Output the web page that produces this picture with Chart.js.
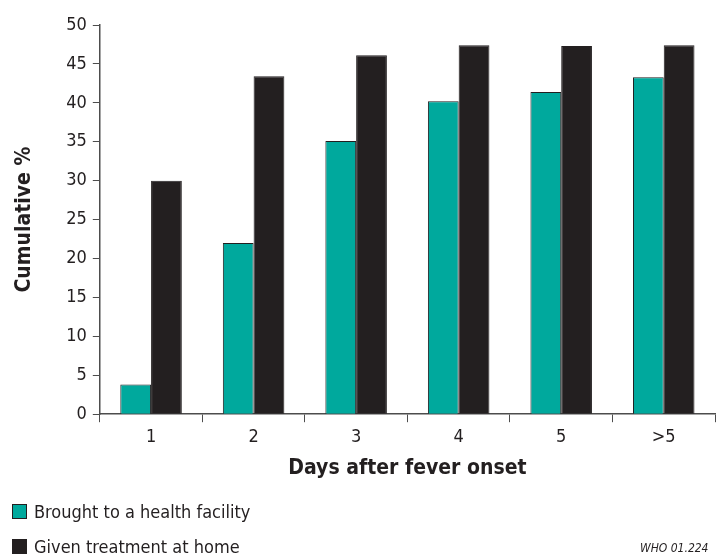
<!DOCTYPE html>
<html>
<head>
<meta charset="utf-8">
<script src="https://cdn.jsdelivr.net/npm/chart.js@4/dist/chart.umd.min.js"></script>
<style>
  body { margin: 0; background: #fff; }
  #wrap { position: relative; width: 719px; height: 555px; }
  #legend { position: absolute; left: 12px; top: 494px; font-family: 'Liberation Sans Narrow', 'DejaVu Sans Condensed', sans-serif; font-size: 18px; color: #231f20; }
  #legend div { display: flex; align-items: center; height: 35px; }
  #legend span.box { display: inline-block; width: 13px; height: 13px; margin-right: 7px; border: 1px solid #231f20; }
  #code { position: absolute; left: 640px; top: 541px; font-family: 'Liberation Sans Narrow', 'DejaVu Sans Condensed', sans-serif; font-size: 12px; font-style: italic; color: #231f20; }
</style>
</head>
<body>
<div id="wrap">
  <canvas id="barChart" width="719" height="555"></canvas>
  <div id="legend"></div>
  <div id="code">WHO 01.224</div>
</div>
<script>
// chart data
var days = ['1', '2', '3', '4', '5', '>5']
var healthFacility = [3.8, 22.0, 35.1, 40.2, 41.4, 43.3]
var treatedAtHome = [30.0, 43.4, 46.1, 47.4, 47.3, 47.4]
var yTicks = [0, 5, 10, 15, 20, 25, 30, 35, 40, 45, 50]

var fontFamily = "'Liberation Sans Narrow', 'DejaVu Sans Condensed', sans-serif"
var ink = '#231f20'

var ctx = document.getElementById('barChart').getContext('2d');
var myChart = new Chart(ctx, {
    type: 'bar',
    data: {
        labels: days,
        datasets: [{
            label: 'Brought to a health facility',
            data: healthFacility,
            backgroundColor: '#00a99d',
            borderColor: ink,
            borderWidth: 1,
            categoryPercentage: 0.6,
            barPercentage: 1.0
        }, {
            label: 'Given treatment at home',
            data: treatedAtHome,
            backgroundColor: ink,
            borderColor: ink,
            borderWidth: 1,
            categoryPercentage: 0.6,
            barPercentage: 1.0
        }]
    },
    options: {
        responsive: false,
        animation: false,
        layout: { padding: { left: 8, top: 25, right: 4, bottom: 70 } },
        plugins: {
            legend: { display: false },
            tooltip: { enabled: false }
        },
        scales: {
            x: {
                grid: { drawOnChartArea: false, color: '#4d4d4d', tickLength: 8 },
                border: { color: '#4d4d4d', width: 1.5 },
                ticks: { color: ink, font: { family: fontFamily, size: 18 }, padding: 4 },
                title: { display: true, text: 'Days after fever onset', color: ink, font: { family: fontFamily, size: 21, weight: 'bold' }, padding: { top: 4 } }
            },
            y: {
                min: 0,
                max: 50,
                afterBuildTicks: function(axis) {
                    axis.ticks = yTicks.map(function(v) { return { value: v } })
                },
                grid: { drawOnChartArea: false, color: '#4d4d4d', tickLength: 7 },
                border: { color: '#4d4d4d', width: 1.5 },
                ticks: { color: ink, font: { family: fontFamily, size: 18 }, padding: 6 },
                title: { display: true, text: 'Cumulative %', color: ink, font: { family: fontFamily, size: 21, weight: 'bold' }, padding: { bottom: 23 } }
            }
        }
    }
});

// html legend built from the datasets
var legend = document.getElementById('legend')
myChart.data.datasets.forEach(function(ds) {
    var row = document.createElement('div')
    var box = document.createElement('span')
    box.className = 'box'
    box.style.background = ds.backgroundColor
    row.appendChild(box)
    row.appendChild(document.createTextNode(ds.label))
    legend.appendChild(row)
})
</script>
</body>
</html>
